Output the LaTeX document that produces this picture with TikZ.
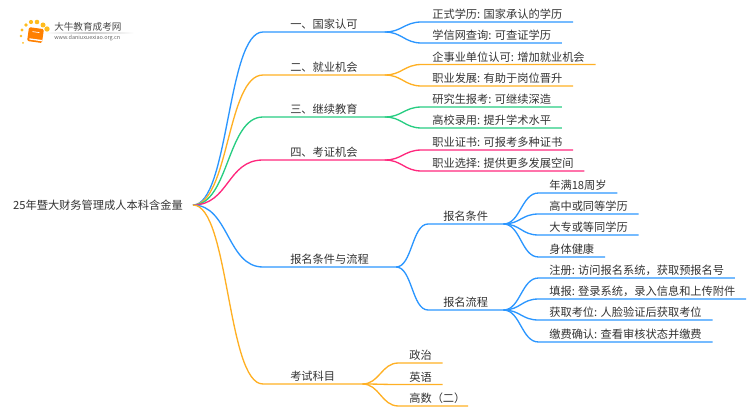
\documentclass[tikz,border=0pt]{standalone}
\usepackage{fontspec}
\setmainfont{Noto Sans CJK SC}
\definecolor{lineblue}{RGB}{43,150,255}
\definecolor{lineorange}{RGB}{255,176,36}
\definecolor{linegreen}{RGB}{40,205,130}
\definecolor{linepink}{RGB}{255,40,125}
\definecolor{inkgrey}{RGB}{51,51,51}
\begin{document}
\begin{tikzpicture}[x=0.75pt,y=0.75pt,yscale=-1,xscale=1,
  txt/.style={font=\fontsize{8.42pt}{10pt}\selectfont,text=inkgrey,text height=8pt,text depth=1.4pt,inner ysep=0.8pt,anchor=south west},
  rootnode/.style={txt,anchor=east,inner xsep=7.5pt},
  topic/.style={txt,inner xsep=20.25pt},
  subtopic/.style={txt,inner xsep=11.25pt},
  leaf/.style={txt,inner xsep=7.9pt},
  branch/.style={line width=1pt},
  link/.style={to path={.. controls +(#1,0) and +(-#1,0) .. (\tikztotarget)}}]
\useasboundingbox (0,0) rectangle (750,410);

%Logo
\foreach \dx/\dy/\dr in {23/43/1,21/36/1.3,22/30/1.6,26/25/1.9,31/22/2.1,37/22/2.3,43/25/2.5,47/29/2.7}
  \fill [lineorange!85!yellow] (\dx,\dy) circle (\dr);
\fill [rotate around={8:(35,35)},rounded corners=1,orange] (28,28) rectangle (43,42);
\fill [rotate around={8:(35,35)},white] (30,39) rectangle (43,40.3);
\draw [rotate around={8:(35,35)},white,line width=0.5] (32,32) -- (39,32);
\shade [left color=white,right color=white,middle color=black!22] (45,33) rectangle (134,33.8);
\node (logotitle) [anchor=west,inner sep=0,text=black!72,font=\fontsize{7.2pt}{8pt}\selectfont] at (54,27) {大牛教育成考网};
\node (logourl) [anchor=west,inner sep=0,text=black!60,font=\fontsize{4.1pt}{5pt}\selectfont] at (54,38.5) {www.daniuxuexiao.org.cn};

%Nodes
\node (root) [rootnode] at (193,205) {25年暨大财务管理成人本科含金量};

\node (one) [topic] at (263,32) {一、国家认可};
\node (oneA) [leaf] at (421.5,22) {正式学历: 国家承认的学历};
\node (oneB) [leaf] at (421.5,43) {学信网查询: 可查证学历};

\node (two) [topic] at (263,75) {二、就业机会};
\node (twoA) [leaf] at (421.5,64.5) {企事业单位认可: 增加就业机会};
\node (twoB) [leaf] at (421.5,86) {职业发展: 有助于岗位晋升};

\node (three) [topic] at (263,117) {三、继续教育};
\node (threeA) [leaf] at (421.5,107) {研究生报考: 可继续深造};
\node (threeB) [leaf] at (421.5,128) {高校录用: 提升学术水平};

\node (four) [topic] at (263,160) {四、考证机会};
\node (fourA) [leaf] at (421.5,150) {职业证书: 可报考多种证书};
\node (fourB) [leaf] at (421.5,171) {职业选择: 提供更多发展空间};

\node (apply) [topic] at (263,267) {报名条件与流程};
\node (cond) [subtopic] at (428,224) {报名条件};
\node (condA) [leaf] at (538.5,193) {年满18周岁};
\node (condB) [leaf] at (538.5,214) {高中或同等学历};
\node (condC) [leaf] at (538.5,235) {大专或等同学历};
\node (condD) [leaf] at (538.5,257) {身体健康};
\node (flow) [subtopic] at (428,310) {报名流程};
\node (flowA) [leaf] at (538.5,278) {注册: 访问报名系统，获取预报名号};
\node (flowB) [leaf] at (538.5,299) {填报: 登录系统，录入信息和上传附件};
\node (flowC) [leaf] at (538.5,320) {获取考位: 人脸验证后获取考位};
\node (flowD) [leaf] at (538.5,342) {缴费确认: 查看审核状态并缴费};

\node (exam) [topic] at (263,384) {考试科目};
\node (examA) [leaf] at (398.5,363) {政治};
\node (examB) [leaf] at (398.5,384.5) {英语};
\node (examC) [leaf] at (398.5,406) {高数（二）\kern-6pt};

%Connectors
\draw [branch,lineblue] (root.east) to[link=36] (one.south west) -- (one.south east);
\draw [branch,lineblue] (one.south east) to[link=17] (oneA.south west) -- (oneA.south east);
\draw [branch,lineblue] (one.south east) to[link=17] (oneB.south west) -- (oneB.south east);

\draw [branch,lineorange] (root.east) to[link=36] (two.south west) -- (two.south east);
\draw [branch,lineorange] (two.south east) to[link=17] (twoA.south west) -- (twoA.south east);
\draw [branch,lineorange] (two.south east) to[link=17] (twoB.south west) -- (twoB.south east);

\draw [branch,linegreen] (root.east) to[link=36] (three.south west) -- (three.south east);
\draw [branch,linegreen] (three.south east) to[link=17] (threeA.south west) -- (threeA.south east);
\draw [branch,linegreen] (three.south east) to[link=17] (threeB.south west) -- (threeB.south east);

\draw [branch,linepink] (root.east) to[link=36] (four.south west) -- (four.south east);
\draw [branch,linepink] (four.south east) to[link=17] (fourA.south west) -- (fourA.south east);
\draw [branch,linepink] (four.south east) to[link=17] (fourB.south west) -- (fourB.south east);

\draw [branch,lineblue] (root.east) to[link=36] (apply.south west) -- (apply.south east);
\draw [branch,lineblue] (apply.south east) to[link=16] (cond.south west) -- (cond.south east);
\draw [branch,lineblue] (apply.south east) to[link=16] (flow.south west) -- (flow.south east);
\draw [branch,lineblue] (cond.south east) to[link=17] (condA.south west) -- (condA.south east);
\draw [branch,lineblue] (cond.south east) to[link=17] (condB.south west) -- (condB.south east);
\draw [branch,lineblue] (cond.south east) to[link=17] (condC.south west) -- (condC.south east);
\draw [branch,lineblue] (cond.south east) to[link=17] (condD.south west) -- (condD.south east);
\draw [branch,lineblue] (flow.south east) to[link=17] (flowA.south west) -- (flowA.south east);
\draw [branch,lineblue] (flow.south east) to[link=17] (flowB.south west) -- (flowB.south east);
\draw [branch,lineblue] (flow.south east) to[link=17] (flowC.south west) -- (flowC.south east);
\draw [branch,lineblue] (flow.south east) to[link=17] (flowD.south west) -- (flowD.south east);

\draw [branch,lineorange] (root.east) to[link=36] (exam.south west) -- (exam.south east);
\draw [branch,lineorange] (exam.south east) to[link=17] (examA.south west) -- (examA.south east);
\draw [branch,lineorange] (exam.south east) to[link=17] (examB.south west) -- (examB.south east);
\draw [branch,lineorange] (exam.south east) to[link=17] (examC.south west) -- (examC.south east);
\end{tikzpicture}
\end{document}
